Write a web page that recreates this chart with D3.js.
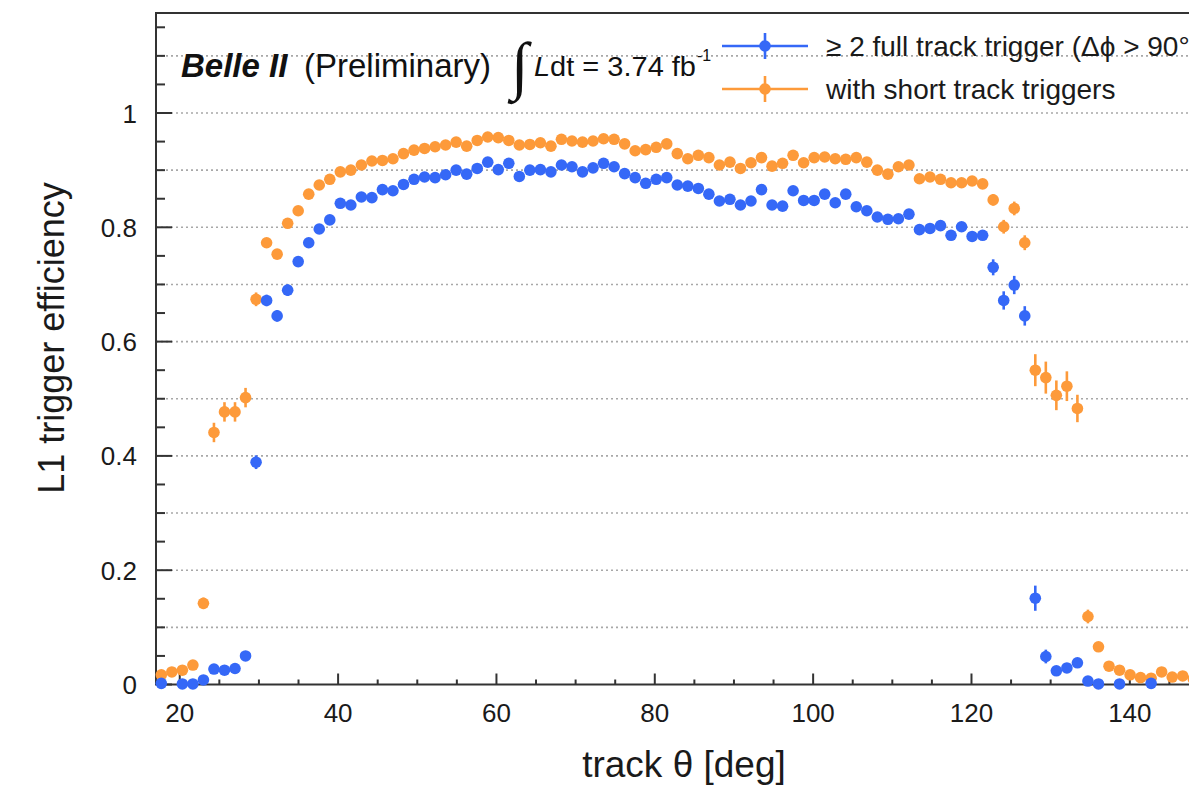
<!DOCTYPE html>
<html>
<head>
<meta charset="utf-8">
<script src="https://cdn.jsdelivr.net/npm/d3@7"></script>
<style>
  html, body { margin: 0; padding: 0; background: #fff; }
  svg { display: block; }
</style>
</head>
<body>
<svg id="chart" width="1189" height="790"></svg>
<script>
// ---- data ----
const thetaCenters = [
  17.67, 19.00, 20.33, 21.66, 22.99, 24.32, 25.65, 26.98, 28.31, 29.64,
  30.97, 32.30, 33.63, 34.96, 36.29, 37.62, 38.95, 40.28, 41.61, 42.94,
  44.27, 45.60, 46.93, 48.26, 49.59, 50.92, 52.25, 53.58, 54.91, 56.24,
  57.57, 58.90, 60.23, 61.56, 62.89, 64.22, 65.55, 66.88, 68.21, 69.54,
  70.87, 72.20, 73.53, 74.86, 76.19, 77.52, 78.85, 80.18, 81.51, 82.84,
  84.17, 85.50, 86.83, 88.16, 89.49, 90.82, 92.15, 93.48, 94.81, 96.14,
  97.47, 98.80, 100.13, 101.46, 102.79, 104.12, 105.45, 106.78, 108.11, 109.44,
  110.77, 112.10, 113.43, 114.76, 116.09, 117.42, 118.75, 120.08, 121.41, 122.74,
  124.07, 125.40, 126.73, 128.06, 129.39, 130.72, 132.05, 133.38, 134.71, 136.04,
  137.37, 138.70, 140.03, 141.36, 142.69, 144.02, 145.35, 146.68, 148.01, 149.34
];

// >= 2 full track trigger (blue)
const fullTrackEff = [
  0.002, null, 0.001, 0.001, 0.008, 0.027, 0.025, 0.028, 0.050, 0.389,
  0.672, 0.645, 0.690, 0.740, 0.773, 0.797, 0.813, 0.842, 0.839, 0.853,
  0.852, 0.866, 0.864, 0.875, 0.884, 0.888, 0.887, 0.892, 0.900, 0.893,
  0.903, 0.914, 0.901, 0.912, 0.889, 0.900, 0.901, 0.897, 0.909, 0.906,
  0.897, 0.904, 0.912, 0.906, 0.894, 0.887, 0.877, 0.884, 0.887, 0.874,
  0.872, 0.868, 0.858, 0.846, 0.849, 0.839, 0.846, 0.866, 0.839, 0.837,
  0.864, 0.847, 0.847, 0.858, 0.843, 0.858, 0.836, 0.829, 0.818, 0.814,
  0.815, 0.823, 0.796, 0.798, 0.803, 0.786, 0.801, 0.784, 0.786, 0.730,
  0.672, 0.699, 0.645, 0.151, 0.049, 0.024, 0.029, 0.038, 0.006, 0.001,
  null, 0.001, null, null, 0.002, null, null, null, null, null
];
const fullTrackErr = [
  0.004, 0, 0.004, 0.004, 0.005, 0.006, 0.006, 0.006, 0.008, 0.012,
  0.010, 0.010, 0.010, 0.008, 0.007, 0.006, 0.006, 0.005, 0.005, 0.005,
  0.005, 0.005, 0.005, 0.005, 0.005, 0.005, 0.005, 0.005, 0.005, 0.005,
  0.005, 0.005, 0.005, 0.005, 0.005, 0.005, 0.005, 0.005, 0.005, 0.005,
  0.005, 0.005, 0.005, 0.005, 0.005, 0.005, 0.005, 0.005, 0.005, 0.005,
  0.005, 0.005, 0.005, 0.005, 0.005, 0.005, 0.005, 0.005, 0.005, 0.005,
  0.005, 0.005, 0.005, 0.005, 0.005, 0.005, 0.005, 0.005, 0.005, 0.005,
  0.005, 0.005, 0.006, 0.006, 0.006, 0.007, 0.007, 0.007, 0.007, 0.014,
  0.016, 0.016, 0.017, 0.022, 0.012, 0.008, 0.008, 0.008, 0.005, 0.004,
  0, 0.004, 0, 0, 0.004, 0, 0, 0, 0, 0
];

// with short track triggers (orange)
const shortTrackEff = [
  0.017, 0.022, 0.025, 0.034, 0.142, 0.441, 0.477, 0.477, 0.502, 0.674,
  0.773, 0.753, 0.807, 0.829, 0.858, 0.874, 0.884, 0.897, 0.900, 0.909,
  0.916, 0.917, 0.920, 0.929, 0.935, 0.938, 0.941, 0.944, 0.949, 0.942,
  0.952, 0.958, 0.957, 0.952, 0.944, 0.945, 0.948, 0.942, 0.954, 0.951,
  0.949, 0.951, 0.955, 0.954, 0.946, 0.934, 0.936, 0.940, 0.946, 0.929,
  0.920, 0.926, 0.922, 0.909, 0.914, 0.903, 0.913, 0.922, 0.907, 0.912,
  0.926, 0.913, 0.922, 0.923, 0.920, 0.919, 0.922, 0.914, 0.900, 0.893,
  0.906, 0.909, 0.885, 0.888, 0.884, 0.878, 0.878, 0.881, 0.876, 0.848,
  0.801, 0.833, 0.773, 0.550, 0.537, 0.506, 0.522, 0.483, 0.119, 0.066,
  0.032, 0.025, 0.017, 0.012, 0.011, 0.022, 0.013, 0.015, 0.010, 0.008
];
const shortTrackErr = [
  0.005, 0.005, 0.005, 0.006, 0.010, 0.017, 0.017, 0.017, 0.017, 0.012,
  0.008, 0.008, 0.007, 0.006, 0.005, 0.005, 0.005, 0.005, 0.005, 0.005,
  0.005, 0.005, 0.005, 0.005, 0.005, 0.005, 0.005, 0.005, 0.005, 0.005,
  0.005, 0.005, 0.005, 0.005, 0.005, 0.005, 0.005, 0.005, 0.005, 0.005,
  0.005, 0.005, 0.005, 0.005, 0.005, 0.005, 0.005, 0.005, 0.005, 0.005,
  0.005, 0.005, 0.005, 0.005, 0.005, 0.005, 0.005, 0.005, 0.005, 0.005,
  0.005, 0.005, 0.005, 0.005, 0.005, 0.005, 0.005, 0.005, 0.005, 0.005,
  0.005, 0.005, 0.005, 0.005, 0.005, 0.005, 0.005, 0.005, 0.006, 0.010,
  0.012, 0.012, 0.013, 0.028, 0.028, 0.026, 0.026, 0.024, 0.012, 0.008,
  0.006, 0.005, 0.005, 0.005, 0.005, 0.005, 0.005, 0.005, 0.005, 0.005
];

const xTickValues = [20, 40, 60, 80, 100, 120, 140];
const yTickValues = [0, 0.2, 0.4, 0.6, 0.8, 1];
const yTickLabels = ["0", "0.2", "0.4", "0.6", "0.8", "1"];
const seriesNames = ["\u2265 2 full track trigger (\u0394\u03d5 > 90\u00b0)", "with short track triggers"];

// ---- layout ----
const BLUE = "#3568f7", ORANGE = "#fd9a3a";
const svg = d3.select("#chart");
const plotL = 156, plotR = 1209, plotT = 13, plotB = 684.5;
const x = d3.scaleLinear().domain([17, 150]).range([plotL, plotR]);
const y = d3.scaleLinear().domain([0, 1.175]).range([plotB, plotT]);
const font = "'Liberation Sans', Arial, Helvetica, sans-serif";

// grid lines (every 0.1)
const gridVals = d3.range(1, 12).map(d => d / 10);
svg.append("g").selectAll("line").data(gridVals).join("line")
  .attr("x1", plotL).attr("x2", plotR)
  .attr("y1", d => y(d)).attr("y2", d => y(d))
  .attr("stroke", "#a8a8a8").attr("stroke-width", 1.6)
  .attr("stroke-dasharray", "2,3");

// frame
svg.append("rect").attr("x", plotL).attr("y", plotT)
  .attr("width", plotR - plotL).attr("height", plotB - plotT)
  .attr("fill", "none").attr("stroke", "#333").attr("stroke-width", 2);

// y ticks (inward)
const yMinor = d3.range(0, 24).map(d => d * 0.05).filter(v => v <= 1.17);
svg.append("g").selectAll("line").data(yMinor).join("line")
  .attr("x1", plotL)
  .attr("x2", d => plotL + (Math.abs(d * 5 - Math.round(d * 5)) < 1e-6 ? 16 : 9))
  .attr("y1", d => y(d)).attr("y2", d => y(d))
  .attr("stroke", "#333").attr("stroke-width", 2);

// x ticks (inward)
const xMinor = d3.range(20, 150, 5);
svg.append("g").selectAll("line").data(xMinor).join("line")
  .attr("x1", d => x(d)).attr("x2", d => x(d))
  .attr("y1", plotB)
  .attr("y2", d => plotB - (d % 20 === 0 ? 11 : 5))
  .attr("stroke", "#333").attr("stroke-width", 2);

// tick labels
svg.append("g").selectAll("text").data(yTickValues).join("text")
  .attr("x", 137).attr("y", d => y(d) + 9.5)
  .attr("text-anchor", "end")
  .attr("font-family", font).attr("font-size", 26).attr("fill", "#1a1a1a")
  .text((d, i) => yTickLabels[i]);
svg.append("g").selectAll("text").data(xTickValues).join("text")
  .attr("x", d => x(d)).attr("y", 722)
  .attr("text-anchor", "middle")
  .attr("font-family", font).attr("font-size", 26).attr("fill", "#1a1a1a")
  .text(d => d);

// axis titles
svg.append("text")
  .attr("transform", "translate(64,338) rotate(-90)")
  .attr("text-anchor", "middle")
  .attr("font-family", font).attr("font-size", 36).attr("fill", "#1a1a1a")
  .text("L1 trigger efficiency");
svg.append("text")
  .attr("x", 684).attr("y", 777)
  .attr("text-anchor", "middle")
  .attr("font-family", font).attr("font-size", 37).attr("fill", "#1a1a1a")
  .text("track \u03b8 [deg]");

// series
function drawSeries(vals, errs, color) {
  const pts = thetaCenters.map((t, i) => ({ t, v: vals[i], e: errs[i] }))
    .filter(p => p.v !== null);
  const g = svg.append("g");
  g.selectAll("line").data(pts).join("line")
    .attr("x1", p => x(p.t)).attr("x2", p => x(p.t))
    .attr("y1", p => y(p.v - p.e)).attr("y2", p => y(p.v + p.e))
    .attr("stroke", color).attr("stroke-width", 2.6);
  g.selectAll("circle").data(pts).join("circle")
    .attr("cx", p => x(p.t)).attr("cy", p => y(p.v))
    .attr("r", 5.8).attr("fill", color);
}
drawSeries(shortTrackEff, shortTrackErr, ORANGE);
drawSeries(fullTrackEff, fullTrackErr, BLUE);

// header text
const hdr = svg.append("g").attr("fill", "#111").attr("font-family", font);
hdr.append("text").attr("x", 181).attr("y", 77)
  .attr("font-size", 33).attr("font-weight", "bold").attr("font-style", "italic")
  .text("Belle II");
hdr.append("text").attr("x", 304).attr("y", 77)
  .attr("font-size", 33).text("(Preliminary)");
hdr.append("text").attr("x", 511).attr("y", 87)
  .attr("font-family", "'Liberation Serif', 'DejaVu Serif', serif")
  .attr("font-size", 64).text("\u222b");
const lum = hdr.append("text").attr("x", 534).attr("y", 76).attr("font-size", 27)
  .attr("textLength", 162).attr("lengthAdjust", "spacingAndGlyphs");
lum.append("tspan").attr("font-style", "italic").text("L");
lum.append("tspan").text("dt = 3.74 fb");
hdr.append("text").attr("x", 697).attr("y", 61).attr("font-size", 16).text("-1");

// legend
const legColors = [BLUE, ORANGE];
const legY = [46, 89];
const leg = svg.append("g");
seriesNames.forEach((name, i) => {
  leg.append("line").attr("x1", 722).attr("x2", 808)
    .attr("y1", legY[i]).attr("y2", legY[i])
    .attr("stroke", legColors[i]).attr("stroke-width", 2.6);
  leg.append("line").attr("x1", 765).attr("x2", 765)
    .attr("y1", legY[i] - 13).attr("y2", legY[i] + 13)
    .attr("stroke", legColors[i]).attr("stroke-width", 2.6);
  leg.append("circle").attr("cx", 765).attr("cy", legY[i]).attr("r", 5.8)
    .attr("fill", legColors[i]);
  leg.append("text").attr("x", 826).attr("y", legY[i] + 10)
    .attr("font-family", font).attr("font-size", 28).attr("fill", "#1a1a1a")
    .text(name);
});
</script>
</body>
</html>
